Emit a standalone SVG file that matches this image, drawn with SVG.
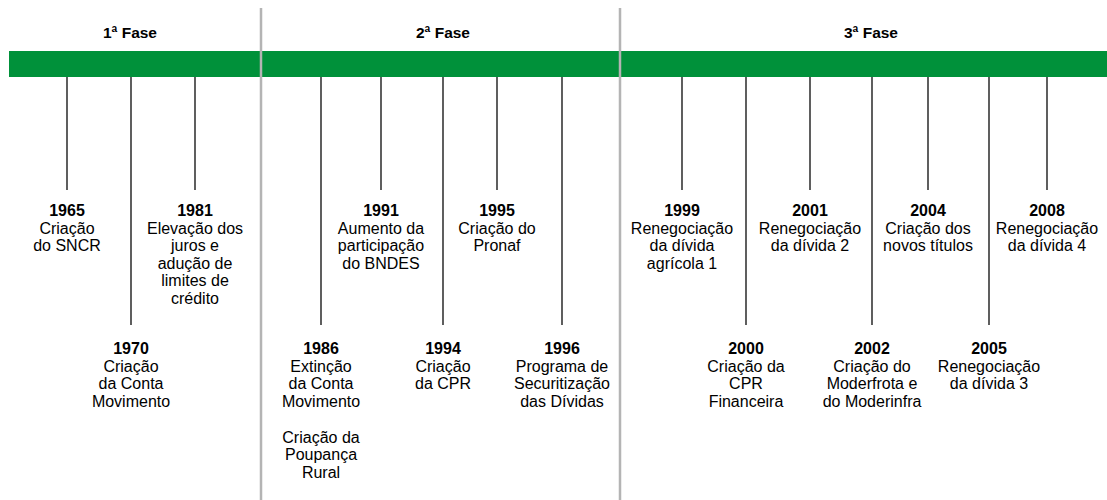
<svg xmlns="http://www.w3.org/2000/svg" width="1107" height="500" viewBox="0 0 1107 500">
<style>
.ph{font-family:"Liberation Sans",Arial,sans-serif;font-size:15.5px;font-weight:bold;fill:#000;text-anchor:middle}
.t{font-family:"Liberation Sans",Arial,sans-serif;font-size:16px;fill:#000;text-anchor:middle}
.y{font-weight:bold}
.tick{stroke:#1a1a1a;stroke-width:1.4}
.div{stroke:#b4b4b4;stroke-width:2.5}
</style>
<rect width="1107" height="500" fill="#fff"/>
<rect id="bar" x="9" y="51" width="1098" height="26" fill="#00913a"/>
<g id="dividers">
<line class="div" x1="261" y1="8" x2="261" y2="500"/>
<line class="div" x1="620" y1="8" x2="620" y2="500"/>
</g>
<g id="phases">
<text class="ph" x="130" y="37.5">1ª Fase</text>
<text class="ph" x="443" y="37.5">2ª Fase</text>
<text class="ph" x="871" y="37.5">3ª Fase</text>
</g>
<g id="connectors">
<line class="tick" x1="67" y1="77" x2="67" y2="190"/>
<line class="tick" x1="131" y1="77" x2="131" y2="325"/>
<line class="tick" x1="195" y1="77" x2="195" y2="190"/>
<line class="tick" x1="321" y1="77" x2="321" y2="325"/>
<line class="tick" x1="381" y1="77" x2="381" y2="190"/>
<line class="tick" x1="443" y1="77" x2="443" y2="325"/>
<line class="tick" x1="497" y1="77" x2="497" y2="190"/>
<line class="tick" x1="562" y1="77" x2="562" y2="325"/>
<line class="tick" x1="682" y1="77" x2="682" y2="190"/>
<line class="tick" x1="746" y1="77" x2="746" y2="325"/>
<line class="tick" x1="810" y1="77" x2="810" y2="190"/>
<line class="tick" x1="872" y1="77" x2="872" y2="325"/>
<line class="tick" x1="928" y1="77" x2="928" y2="190"/>
<line class="tick" x1="989" y1="77" x2="989" y2="325"/>
<line class="tick" x1="1047" y1="77" x2="1047" y2="190"/>
</g>
<g id="e1965"><text class="t" x="67" y="216"><tspan class="y" x="67">1965</tspan><tspan x="67" dy="17.5">Criação</tspan><tspan x="67" dy="17.5">do SNCR</tspan></text></g>
<g id="e1970"><text class="t" x="131" y="354"><tspan class="y" x="131">1970</tspan><tspan x="131" dy="17.5">Criação</tspan><tspan x="131" dy="17.5">da Conta</tspan><tspan x="131" dy="17.5">Movimento</tspan></text></g>
<g id="e1981"><text class="t" x="195" y="216"><tspan class="y" x="195">1981</tspan><tspan x="195" dy="17.5">Elevação dos</tspan><tspan x="195" dy="17.5">juros e</tspan><tspan x="195" dy="17.5">adução de</tspan><tspan x="195" dy="17.5">limites de</tspan><tspan x="195" dy="17.5">crédito</tspan></text></g>
<g id="e1986"><text class="t" x="321" y="354"><tspan class="y" x="321">1986</tspan><tspan x="321" dy="17.5">Extinção</tspan><tspan x="321" dy="17.5">da Conta</tspan><tspan x="321" dy="17.5">Movimento</tspan><tspan x="321" dy="36">Criação da</tspan><tspan x="321" dy="17.5">Poupança</tspan><tspan x="321" dy="17.5">Rural</tspan></text></g>
<g id="e1991"><text class="t" x="381" y="216"><tspan class="y" x="381">1991</tspan><tspan x="381" dy="17.5">Aumento da</tspan><tspan x="381" dy="17.5">participação</tspan><tspan x="381" dy="17.5">do BNDES</tspan></text></g>
<g id="e1994"><text class="t" x="443" y="354"><tspan class="y" x="443">1994</tspan><tspan x="443" dy="17.5">Criação</tspan><tspan x="443" dy="17.5">da CPR</tspan></text></g>
<g id="e1995"><text class="t" x="497" y="216"><tspan class="y" x="497">1995</tspan><tspan x="497" dy="17.5">Criação do</tspan><tspan x="497" dy="17.5">Pronaf</tspan></text></g>
<g id="e1996"><text class="t" x="562" y="354"><tspan class="y" x="562">1996</tspan><tspan x="562" dy="17.5">Programa de</tspan><tspan x="562" dy="17.5">Securitização</tspan><tspan x="562" dy="17.5">das Dívidas</tspan></text></g>
<g id="e1999"><text class="t" x="682" y="216"><tspan class="y" x="682">1999</tspan><tspan x="682" dy="17.5">Renegociação</tspan><tspan x="682" dy="17.5">da dívida</tspan><tspan x="682" dy="17.5">agrícola 1</tspan></text></g>
<g id="e2000"><text class="t" x="746" y="354"><tspan class="y" x="746">2000</tspan><tspan x="746" dy="17.5">Criação da</tspan><tspan x="746" dy="17.5">CPR</tspan><tspan x="746" dy="17.5">Financeira</tspan></text></g>
<g id="e2001"><text class="t" x="810" y="216"><tspan class="y" x="810">2001</tspan><tspan x="810" dy="17.5">Renegociação</tspan><tspan x="810" dy="17.5">da dívida 2</tspan></text></g>
<g id="e2002"><text class="t" x="872" y="354"><tspan class="y" x="872">2002</tspan><tspan x="872" dy="17.5">Criação do</tspan><tspan x="872" dy="17.5">Moderfrota e</tspan><tspan x="872" dy="17.5">do Moderinfra</tspan></text></g>
<g id="e2004"><text class="t" x="928" y="216"><tspan class="y" x="928">2004</tspan><tspan x="928" dy="17.5">Criação dos</tspan><tspan x="928" dy="17.5">novos títulos</tspan></text></g>
<g id="e2005"><text class="t" x="989" y="354"><tspan class="y" x="989">2005</tspan><tspan x="989" dy="17.5">Renegociação</tspan><tspan x="989" dy="17.5">da dívida 3</tspan></text></g>
<g id="e2008"><text class="t" x="1047" y="216"><tspan class="y" x="1047">2008</tspan><tspan x="1047" dy="17.5">Renegociação</tspan><tspan x="1047" dy="17.5">da dívida 4</tspan></text></g>
</svg>
